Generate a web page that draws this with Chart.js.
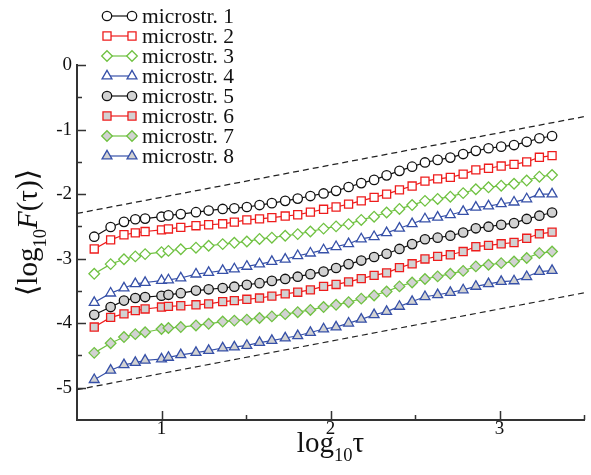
<!DOCTYPE html>
<html>
<head>
<meta charset="utf-8">
<script src="https://cdn.jsdelivr.net/npm/chart.js@4.4.1/dist/chart.umd.min.js"></script>
<style>
    html, body { margin: 0; padding: 0; background: #fff; }
    #wrap { width: 591px; height: 475px; }
</style>
</head>
<body>
<div id="wrap"><canvas id="chart" width="591" height="475"></canvas></div>
<script>
// log10 tau positions of the measured points
const logTau = [0.602, 0.699, 0.778, 0.845, 0.903, 1.000, 1.041, 1.114, 1.204, 1.279, 1.362, 1.431,
    1.505, 1.580, 1.653, 1.732, 1.806, 1.881, 1.959, 2.033, 2.107, 2.182, 2.258, 2.332, 2.408,
    2.483, 2.559, 2.634, 2.709, 2.785, 2.860, 2.935, 3.010, 3.086, 3.161, 3.236, 3.311];

const micro1 = [-2.66, -2.51, -2.43, -2.39, -2.38, -2.35, -2.33, -2.31, -2.28, -2.255, -2.23, -2.22,
    -2.20, -2.17, -2.14, -2.105, -2.07, -2.03, -1.99, -1.95, -1.89, -1.83, -1.78, -1.71, -1.64,
    -1.575, -1.51, -1.47, -1.435, -1.38, -1.33, -1.29, -1.265, -1.24, -1.19, -1.135, -1.10];
const micro2 = [-2.85, -2.71, -2.63, -2.60, -2.58, -2.555, -2.54, -2.515, -2.49, -2.475, -2.46, -2.435,
    -2.40, -2.385, -2.365, -2.34, -2.32, -2.28, -2.235, -2.20, -2.155, -2.105, -2.05, -2.00, -1.935,
    -1.875, -1.80, -1.765, -1.74, -1.69, -1.625, -1.60, -1.565, -1.54, -1.50, -1.43, -1.405];
const micro3 = [-3.235, -3.085, -3.01, -2.965, -2.93, -2.90, -2.88, -2.855, -2.83, -2.80, -2.775, -2.755,
    -2.735, -2.695, -2.675, -2.645, -2.62, -2.58, -2.535, -2.50, -2.465, -2.40, -2.35, -2.285, -2.23,
    -2.17, -2.105, -2.075, -2.04, -1.985, -1.925, -1.895, -1.87, -1.84, -1.79, -1.73, -1.705];
const micro4 = [-3.68, -3.535, -3.455, -3.39, -3.37, -3.34, -3.33, -3.30, -3.24, -3.215, -3.185, -3.16,
    -3.12, -3.085, -3.045, -3.01, -2.955, -2.915, -2.865, -2.815, -2.77, -2.695, -2.66, -2.60, -2.53,
    -2.46, -2.385, -2.36, -2.32, -2.27, -2.205, -2.185, -2.15, -2.125, -2.075, -2.00, -2.00];
const micro5 = [-3.87, -3.75, -3.65, -3.61, -3.595, -3.575, -3.56, -3.535, -3.495, -3.475, -3.455, -3.435,
    -3.405, -3.38, -3.345, -3.315, -3.28, -3.24, -3.20, -3.145, -3.085, -3.03, -2.975, -2.925, -2.85,
    -2.775, -2.70, -2.675, -2.645, -2.595, -2.53, -2.505, -2.475, -2.45, -2.385, -2.335, -2.285];
const micro6 = [-4.06, -3.91, -3.855, -3.805, -3.78, -3.75, -3.74, -3.73, -3.715, -3.70, -3.665, -3.65,
    -3.63, -3.61, -3.58, -3.545, -3.52, -3.485, -3.43, -3.40, -3.36, -3.31, -3.26, -3.22, -3.14,
    -3.08, -3.005, -2.965, -2.94, -2.89, -2.815, -2.795, -2.77, -2.75, -2.685, -2.615, -2.59];
const micro7 = [-4.46, -4.31, -4.215, -4.17, -4.14, -4.09, -4.075, -4.06, -4.035, -4.01, -3.975, -3.96,
    -3.945, -3.92, -3.895, -3.86, -3.83, -3.795, -3.75, -3.715, -3.675, -3.62, -3.57, -3.51, -3.43,
    -3.37, -3.315, -3.275, -3.235, -3.19, -3.12, -3.095, -3.07, -3.045, -2.99, -2.915, -2.89];
const micro8 = [-4.875, -4.73, -4.645, -4.61, -4.575, -4.555, -4.53, -4.49, -4.455, -4.425, -4.385, -4.37,
    -4.345, -4.30, -4.27, -4.23, -4.195, -4.145, -4.09, -4.06, -4.00, -3.94, -3.87, -3.82, -3.74,
    -3.665, -3.59, -3.56, -3.525, -3.485, -3.43, -3.39, -3.355, -3.345, -3.28, -3.20, -3.185];

// dashed guide lines (ends)
const guideX = [0.5, 3.5];
const upperGuide = [-2.30, -0.80];
const lowerGuide = [-5.03, -3.53];

const seriesNames = ['microstr. 1', 'microstr. 2', 'microstr. 3', 'microstr. 4',
    'microstr. 5', 'microstr. 6', 'microstr. 7', 'microstr. 8'];

const xTicks = [1, 2, 3];
const xMinorTicks = [1.5, 2.5, 3.5];
const yTicks = [0, -1, -2, -3, -4, -5];
const yMinorTicks = [-0.5, -1.5, -2.5, -3.5, -4.5];

const SERIF = '"Liberation Serif", "DejaVu Serif", serif';
const AXIS_COLOR = '#333';
const FILL_GRAY = '#d2d2d2';

const styles = [
    { color: '#111111', pointStyle: 'circle', radius: 4.7, fill: '#fff' },
    { color: '#ee1c1c', pointStyle: 'rect', radius: 5.7, fill: '#fff' },
    { color: '#70c242', pointStyle: 'rectRot', radius: 5.3, fill: '#fff' },
    { color: '#3650a8', pointStyle: 'triangle', radius: 5.7, fill: '#fff' },
    { color: '#111111', pointStyle: 'circle', radius: 4.7, fill: FILL_GRAY },
    { color: '#ee1c1c', pointStyle: 'rect', radius: 5.7, fill: FILL_GRAY },
    { color: '#70c242', pointStyle: 'rectRot', radius: 5.3, fill: FILL_GRAY },
    { color: '#3650a8', pointStyle: 'triangle', radius: 5.7, fill: FILL_GRAY },
];

const seriesValues = [micro1, micro2, micro3, micro4, micro5, micro6, micro7, micro8];

function toPoints(xs, ys) {
    return xs.map((x, i) => ({ x, y: ys[i] }));
}

const datasets = seriesValues.map((values, i) => ({
    label: seriesNames[i],
    data: toPoints(logTau, values),
    showLine: true,
    borderColor: styles[i].color,
    borderWidth: 1.2,
    pointStyle: styles[i].pointStyle,
    pointRadius: styles[i].radius,
    pointBorderColor: styles[i].color,
    pointBackgroundColor: styles[i].fill,
    pointBorderWidth: 1.3,
}));

[upperGuide, lowerGuide].forEach((values) => {
    datasets.push({
        label: 'guide',
        data: toPoints(guideX, values),
        showLine: true,
        borderColor: '#222',
        borderWidth: 1.2,
        borderDash: [6, 4],
        pointRadius: 0,
    });
});

function drawRich(ctx, parts, x, y, size) {
    let total = 0;
    const spans = parts.map(([text, kind]) => {
        const fs = kind === 'sub' ? size * 0.64 : size;
        const font = `${kind === 'it' ? 'italic ' : ''}${fs}px ${SERIF}`;
        ctx.font = font;
        const w = ctx.measureText(text).width;
        total += w;
        return { text, font, w, dy: kind === 'sub' ? size * 0.3 : 0 };
    });
    let cx = x - total / 2;
    ctx.textAlign = 'left';
    ctx.textBaseline = 'alphabetic';
    spans.forEach((s) => {
        ctx.font = s.font;
        ctx.fillText(s.text, cx, y + s.dy);
        cx += s.w;
    });
}

const decorPlugin = {
    id: 'decor',
    afterDraw(chart) {
        const { ctx, chartArea, scales } = chart;
        ctx.save();
        ctx.strokeStyle = AXIS_COLOR;
        ctx.lineWidth = 1.5;
        ctx.beginPath();
        // inward ticks
        xTicks.forEach((v) => {
            const px = Math.round(scales.x.getPixelForValue(v)) + 0.5;
            ctx.moveTo(px, chartArea.bottom);
            ctx.lineTo(px, chartArea.bottom - 9);
        });
        xMinorTicks.forEach((v) => {
            const px = Math.round(scales.x.getPixelForValue(v)) + 0.5;
            ctx.moveTo(px, chartArea.bottom);
            ctx.lineTo(px, chartArea.bottom - 5);
        });
        yTicks.forEach((v) => {
            const py = Math.round(scales.y.getPixelForValue(v)) + 0.5;
            ctx.moveTo(chartArea.left, py);
            ctx.lineTo(chartArea.left + 9, py);
        });
        yMinorTicks.forEach((v) => {
            const py = Math.round(scales.y.getPixelForValue(v)) + 0.5;
            ctx.moveTo(chartArea.left, py);
            ctx.lineTo(chartArea.left + 5, py);
        });
        ctx.stroke();

        // axis titles
        ctx.fillStyle = '#111';
        drawRich(ctx, [['log', ''], ['10', 'sub'], ['\u03c4', '']], (chartArea.left + chartArea.right) / 2, 452, 29);
        ctx.save();
        ctx.translate(37, (chartArea.top + chartArea.bottom) / 2 - 10);
        ctx.rotate(-Math.PI / 2);
        drawRich(ctx, [['\u27e8log', ''], ['10', 'sub'], ['F', 'it'], ['(\u03c4)\u27e9', '']], 0, 0, 29);
        ctx.restore();

        // legend: line with a marker at both ends
        seriesNames.forEach((name, i) => {
            const st = styles[i];
            const y = 16 + i * 20;
            const x1 = 107;
            const x2 = 132;
            ctx.strokeStyle = st.color;
            ctx.lineWidth = 1.2;
            ctx.beginPath();
            ctx.moveTo(x1, y);
            ctx.lineTo(x2, y);
            ctx.stroke();
            ctx.fillStyle = st.fill;
            ctx.lineWidth = 1.3;
            [x1, x2].forEach((px) => {
                Chart.helpers.drawPoint(ctx, { pointStyle: st.pointStyle, radius: st.radius, rotation: 0, borderWidth: 1.3 }, px, y);
            });
            ctx.fillStyle = '#111';
            ctx.font = `21.5px ${SERIF}`;
            ctx.textAlign = 'left';
            ctx.textBaseline = 'alphabetic';
            ctx.fillText(name, 142, y + 7);
        });
        ctx.restore();
    },
};

new Chart(document.getElementById('chart'), {
    type: 'scatter',
    data: { datasets },
    options: {
        responsive: false,
        animation: false,
        layout: { padding: { left: 0, right: 7, top: 65, bottom: 0 } },
        plugins: {
            legend: { display: false },
            tooltip: { enabled: false },
        },
        scales: {
            x: {
                type: 'linear',
                min: 0.5,
                max: 3.5,
                afterBuildTicks: (scale) => { scale.ticks = xTicks.map((value) => ({ value })); },
                afterFit: (scale) => { scale.height = 55; },
                grid: { display: false, drawTicks: false },
                border: { color: AXIS_COLOR, width: 2 },
                ticks: { font: { family: SERIF, size: 19 }, color: '#111', padding: -2, maxRotation: 0 },
            },
            y: {
                type: 'linear',
                min: -5.5,
                max: 0,
                afterBuildTicks: (scale) => { scale.ticks = yTicks.map((value) => ({ value })); },
                afterFit: (scale) => { scale.width = 77; },
                grid: { display: false, drawTicks: false },
                border: { color: AXIS_COLOR, width: 2 },
                ticks: { font: { family: SERIF, size: 19 }, color: '#111', padding: 5 },
            },
        },
    },
    plugins: [decorPlugin],
});
</script>
</body>
</html>
